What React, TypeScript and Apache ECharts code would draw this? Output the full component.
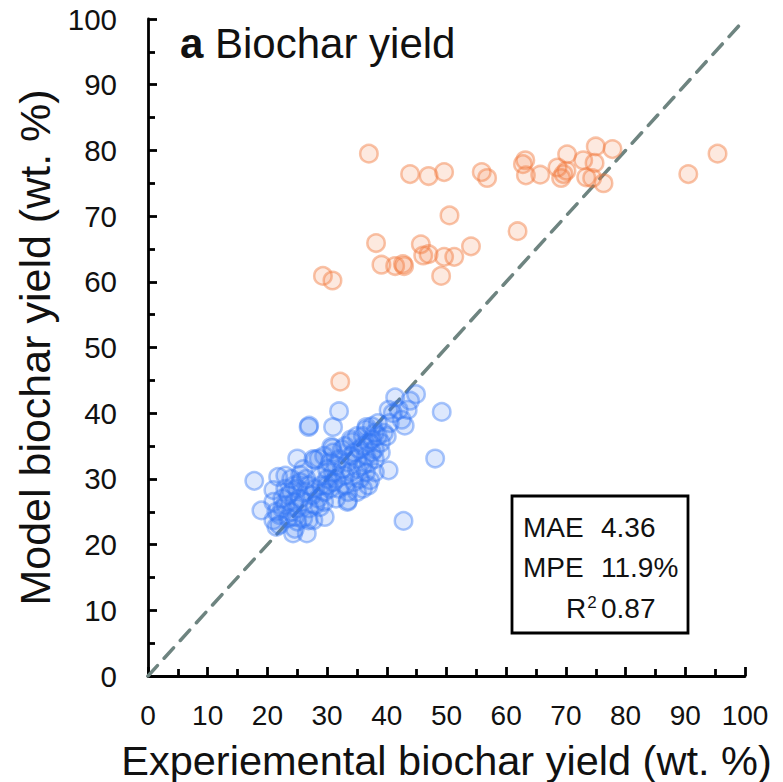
import React, { useEffect, useRef } from "react";
import * as echarts from "echarts";

// Experimental vs. model biochar yield (wt. %)
const blueExp = [
  17.8, 19.0, 21.8, 21.0, 21.5, 24.6, 26.6, 27.7, 29.6, 28.8, 25.0, 27.7, 28.6, 25.5, 28.8,
  26.9, 27.0, 31.0, 32.0, 30.9, 34.1, 36.6, 33.4, 33.5, 36.9, 40.3, 40.3, 41.4, 43.9, 44.9,
  43.0, 49.2, 48.1, 42.8, 21.0, 24.6, 26.9, 24.3, 22.0, 22.5, 23.0, 23.5, 24.0, 24.5, 25.0,
  25.5, 23.0, 24.0, 24.5, 25.0, 26.0, 26.5, 27.0, 27.5, 26.0, 25.0, 23.5, 22.5, 24.0, 25.5,
  26.5, 28.0, 28.5, 29.0, 29.5, 30.0, 27.0, 28.0, 22.0, 21.0, 21.5, 26.0, 23.0, 29.5, 30.5,
  31.0, 31.0, 31.5, 32.0, 32.5, 33.0, 33.5, 34.0, 34.5, 35.0, 35.5, 36.0, 36.5, 37.0, 37.5,
  38.0, 38.5, 35.0, 36.0, 34.0, 33.0, 32.0, 31.5, 30.5, 30.0, 29.5, 31.0, 33.0, 35.0, 36.5,
  37.5, 38.0, 39.0, 39.5, 37.0, 35.5, 36.5, 38.0, 34.5, 32.5, 34.0, 36.0, 38.5, 39.0, 40.0,
  40.5, 41.0, 42.0, 42.5, 43.5, 37.5, 33.5, 30.0, 31.5, 36.0, 35.0, 38.0, 30.7, 28.0, 37.2,
];
const blueModel = [
  29.7, 25.2, 30.3, 28.3, 22.7, 22.4, 21.7, 23.7, 24.2, 25.7, 33.1, 33.0, 33.1, 30.6, 30.3,
  37.9, 38.1, 37.9, 40.3, 34.7, 35.6, 37.9, 26.5, 26.7, 29.0, 31.3, 40.5, 42.4, 41.9, 42.9,
  38.1, 40.2, 33.1, 23.6, 23.7, 24.2, 23.7, 21.7, 24.5, 25.5, 26.0, 27.5, 28.0, 29.0, 28.5,
  27.0, 28.5, 25.0, 26.5, 25.5, 26.5, 28.0, 29.0, 27.5, 24.0, 23.5, 24.0, 27.0, 30.0, 29.5,
  30.0, 28.5, 27.0, 29.0, 28.0, 30.0, 25.5, 26.0, 23.0, 26.5, 25.0, 31.5, 30.5, 26.5, 28.5,
  29.5, 31.0, 32.0, 33.0, 31.5, 30.5, 32.5, 33.5, 34.0, 33.0, 34.5, 35.0, 33.5, 35.5, 36.0,
  34.5, 36.5, 31.5, 32.0, 31.0, 29.0, 28.5, 30.0, 32.5, 31.5, 33.5, 34.0, 35.0, 36.5, 37.5,
  38.0, 37.0, 35.5, 37.0, 32.5, 30.0, 31.0, 33.0, 29.5, 34.5, 36.0, 36.5, 38.5, 34.0, 36.5,
  38.5, 40.0, 40.5, 39.0, 40.5, 34.0, 28.0, 29.0, 27.0, 28.5, 28.0, 31.0, 34.9, 32.9, 29.8,
];

const orangeExp = [
  37.0, 43.9, 47.0, 49.6, 55.9, 56.8, 62.8, 63.2, 63.3, 65.7, 68.6, 70.1, 69.2, 69.6, 70.2,
  72.9, 75.0, 77.8, 74.8, 73.4, 74.4, 76.3, 90.5, 95.4, 50.5, 61.9, 38.2, 45.7, 54.1, 39.1,
  41.4, 42.7, 42.9, 46.1, 47.0, 49.6, 51.3, 49.1, 29.3, 30.9, 32.2,
];
const orangeModel = [
  79.5, 76.4, 76.1, 76.7, 76.7, 75.8, 77.9, 78.5, 76.2, 76.3, 77.4, 76.9, 75.8, 76.4, 79.4,
  78.5, 80.6, 80.2, 78.1, 75.9, 75.8, 75.0, 76.4, 79.5, 70.1, 67.7, 65.9, 65.7, 65.4, 62.6,
  62.4, 62.7, 62.4, 64.0, 64.2, 63.8, 63.8, 60.9, 60.9, 60.2, 44.8,
];

const parityLine = [0, 100];
const tickValues = [0, 10, 20, 30, 40, 50, 60, 70, 80, 90, 100];

const statNames = ["MAE", "MPE", "R"];
const statValues = ["4.36", "11.9%", "0.87"];

const FONT = "'Liberation Sans', Arial, Helvetica, sans-serif";

export default function App() {
  const ref = useRef<HTMLDivElement>(null);

  useEffect(() => {
    if (!ref.current) return;
    const chart = echarts.init(ref.current, undefined, { renderer: "svg" });

    const blueData = blueExp.map((x, i) => [x, blueModel[i]]);
    const orangeData = orangeExp.map((x, i) => [x, orangeModel[i]]);
    const lineData = parityLine.map((v) => [v, v]);

    const axisCommon = {
      type: "value" as const,
      min: tickValues[0],
      max: tickValues[tickValues.length - 1],
      interval: tickValues[1] - tickValues[0],
      splitLine: { show: false },
      axisLine: { show: true, onZero: false, lineStyle: { color: "#000", width: 2.8 } },
      axisTick: { show: true, inside: true, length: 9, lineStyle: { color: "#000", width: 2.8 } },
      minorTick: { show: true, splitNumber: 2, length: 7, lineStyle: { color: "#000", width: 2.8 } },
      nameLocation: "middle" as const,
    };

    const statRows = statNames.map((n, i) => ({
      label: n,
      value: statValues[i],
      y: 527 + i * 40.5,
    }));

    chart.setOption({
      animation: false,
      backgroundColor: "#fff",
      grid: {
        left: 148,
        right: 38,
        top: 19,
        bottom: 106,
        containLabel: false,
        outerBoundsMode: "none",
      },
      xAxis: {
        ...axisCommon,
        name: "Experiemental biochar yield (wt. %)",
        nameGap: 63,
        nameTextStyle: { fontFamily: FONT, fontSize: 41.5, color: "#111" },
        axisLabel: { fontFamily: FONT, fontSize: 28, color: "#111", margin: 25 },
      },
      yAxis: {
        ...axisCommon,
        name: "Model biochar yield (wt. %)",
        nameGap: 88,
        nameTextStyle: { fontFamily: FONT, fontSize: 43, color: "#111" },
        axisLabel: { fontFamily: FONT, fontSize: 29.5, color: "#111", margin: 31 },
      },
      series: [
        {
          type: "line",
          data: lineData,
          symbol: "none",
          silent: true,
          z: 1,
          lineStyle: { color: "#6e8480", width: 3.5, type: [14, 10], cap: "round" },
        },
        {
          type: "scatter",
          data: blueData,
          symbolSize: 17.5,
          z: 2,
          itemStyle: {
            color: "rgba(51,119,246,0.21)",
            borderColor: "rgba(51,119,246,0.52)",
            borderWidth: 2.5,
          },
        },
        {
          type: "scatter",
          data: orangeData,
          symbolSize: 17.5,
          z: 3,
          itemStyle: {
            color: "rgba(242,118,58,0.2)",
            borderColor: "rgba(242,118,58,0.55)",
            borderWidth: 2.5,
          },
        },
      ],
      graphic: [
        {
          type: "text",
          left: 180,
          top: 22,
          style: {
            text: "{b|a} Biochar yield",
            font: `42px ${FONT}`,
            fill: "#111",
            rich: {
              b: { fontFamily: FONT, fontSize: 42, fontWeight: "bold", fill: "#111" },
            },
          },
        },
        {
          type: "rect",
          shape: { x: 512, y: 496, width: 176, height: 137 },
          style: { fill: "#fff", stroke: "#000", lineWidth: 2.8 },
          z: 10,
        },
        ...statRows.map((r, i) => ({
          type: "text",
          z: 11,
          x: i === 2 ? 566 : 523,
          y: r.y,
          style: {
            text: i === 2 ? "{n|R}{s|2}" : r.label,
            fontFamily: FONT,
            fontSize: 28,
            fill: "#111",
            verticalAlign: "middle",
            rich: {
              n: { fontFamily: FONT, fontSize: 28, fill: "#111" },
              s: { fontFamily: FONT, fontSize: 17, fill: "#111", verticalAlign: "top", padding: [0, 0, 12, 1] },
            },
          },
        })),
        ...statRows.map((r) => ({
          type: "text",
          z: 11,
          x: 601,
          y: r.y,
          style: {
            text: r.value,
            fontFamily: FONT,
            fontSize: 28,
            fill: "#111",
            verticalAlign: "middle",
          },
        })),
      ],
    });

    return () => chart.dispose();
  }, []);

  return (
    <div
      ref={ref}
      style={{ position: "fixed", left: 0, top: 0, width: 783, height: 782, background: "#fff" }}
    />
  );
}
